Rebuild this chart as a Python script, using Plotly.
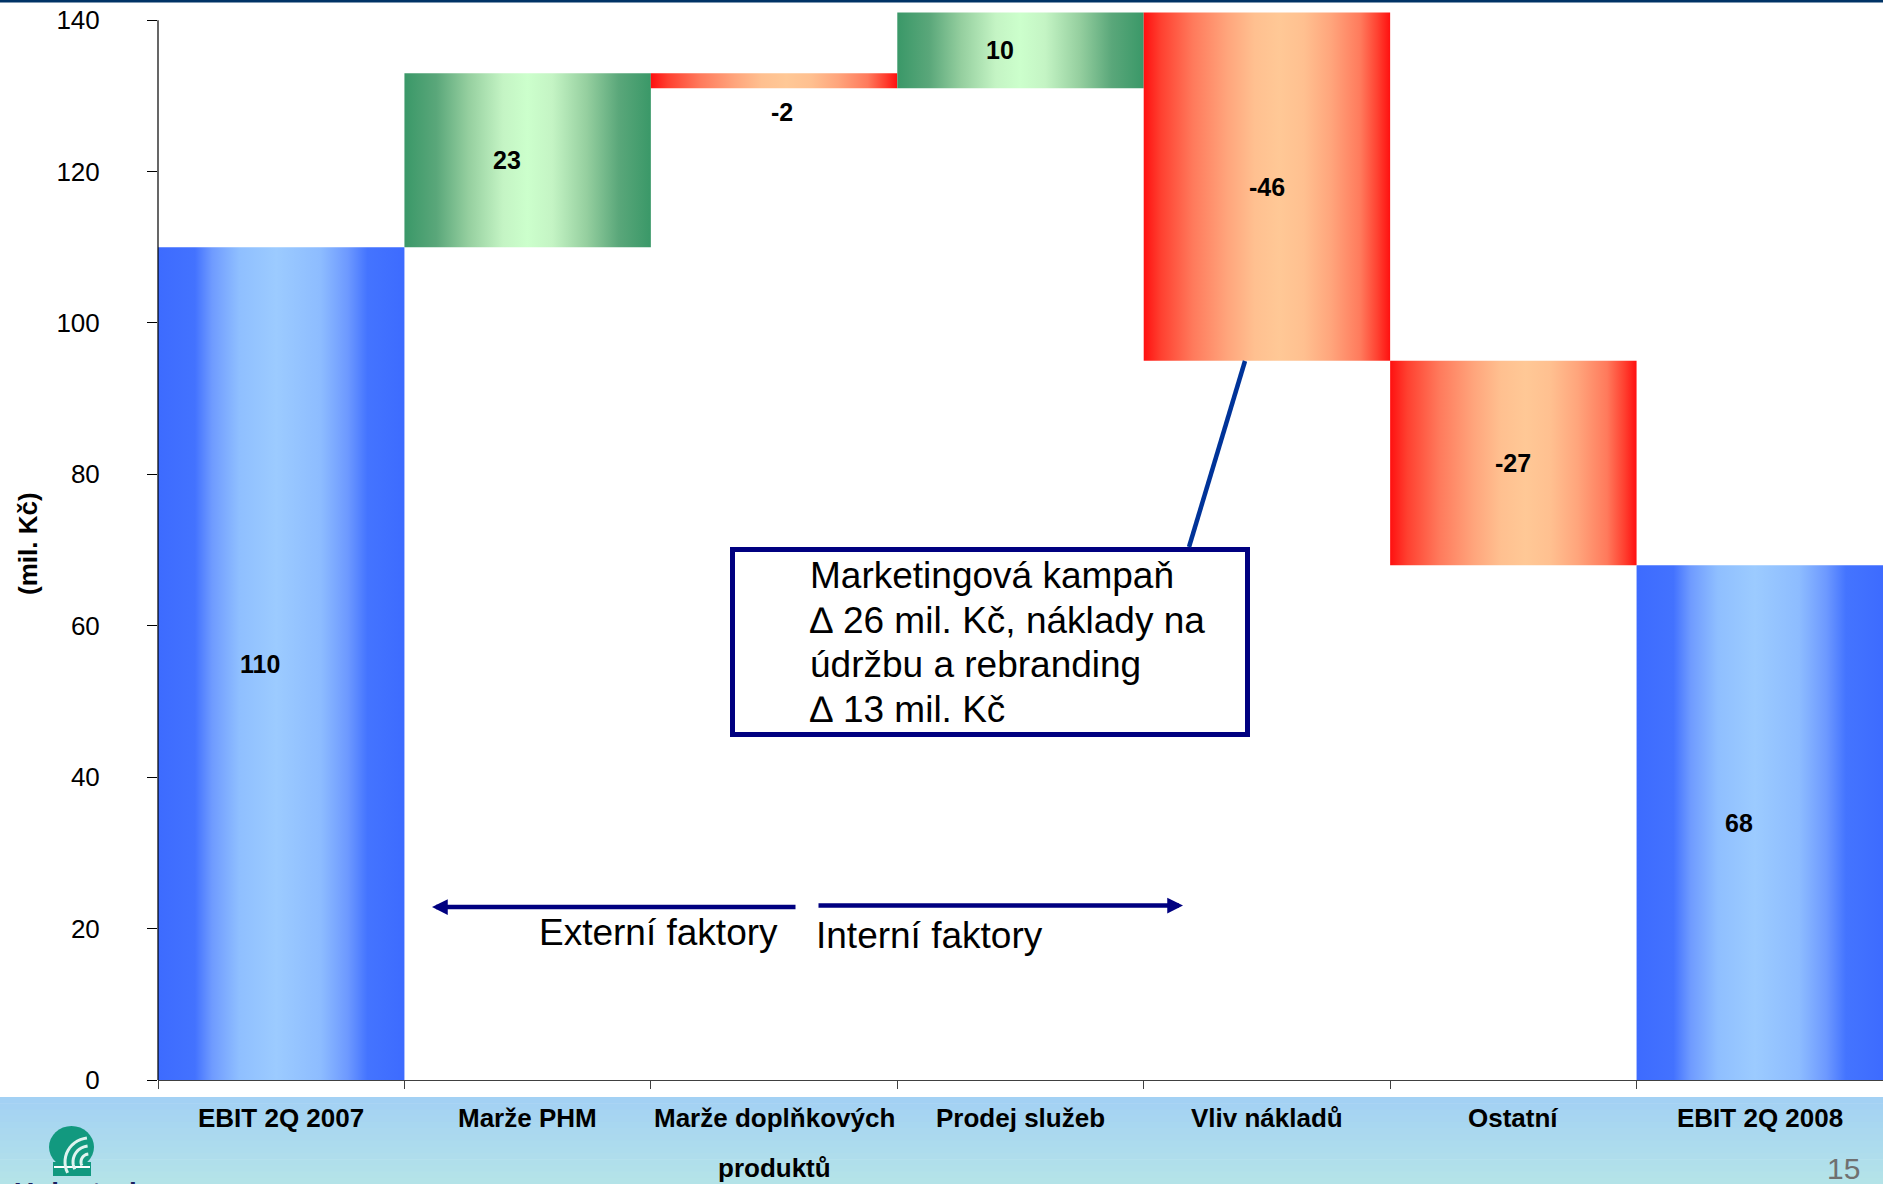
import math
import plotly.graph_objects as go

# ---------------- data ----------------
categories = ["EBIT 2Q 2007", "Marže PHM", "Marže doplňkových<br>produktů",
              "Prodej služeb", "Vliv nákladů", "Ostatní", "EBIT 2Q 2008"]
values = [110, 23, -2, 10, -46, -27, 68]
measures = ["total", "relative", "relative", "relative", "relative", "relative", "total"]
y_ticks = [0, 20, 40, 60, 80, 100, 120, 140]
y_title = "(mil. Kč)"
note_lines = ["Marketingová kampaň", "∆ 26 mil. Kč, náklady na",
              "údržbu a rebranding", "∆ 13 mil. Kč"]
factor_labels = ["Externí faktory", "Interní faktory"]
page_number = "15"
brand = "Unipetrol"

# ---------------- styling ----------------
FONT = "Liberation Sans, Arial, sans-serif"
W, H = 1883, 1184
L, R, T, B = 158, 1883, 5, 1080          # plot area in page pixels
Y_MAX = 142
NCAT = len(values)

BLUE = [[0, '#3d6bff'], [0.15, '#4372ff'], [0.22, '#6f9bff'], [0.33, '#8fbfff'],
        [0.48, '#9ccbff'], [0.66, '#8dbcff'], [0.77, '#6d99ff'], [0.85, '#4474ff'],
        [1, '#3d6bff']]
GREEN = [[0, '#3a9868'], [0.13, '#5aa77a'], [0.26, '#95cf9f'], [0.4, '#c4f4c4'],
         [0.5, '#ccffcc'], [0.6, '#c4f4c4'], [0.74, '#95cf9f'], [0.87, '#5aa77a'],
         [1, '#3a9868']]
RED = [[0, '#ff1010'], [0.07, '#ff4030'], [0.2, '#ff7a5c'], [0.34, '#ffa57c'],
       [0.45, '#ffc090'], [0.55, '#ffc896'], [0.65, '#ffc090'], [0.76, '#ffa57c'],
       [0.88, '#ff7a5c'], [0.95, '#ff4030'], [1, '#ff1010']]


def fx(px):
    return (px - L) / (R - L)


def fy(py):
    return (B - py) / (B - T)


def dx(px):
    return (px - L) / ((R - L) / NCAT) - 0.5


def dy(py):
    return (B - py) / ((B - T) / Y_MAX)


fig = go.Figure()

# ---------------- bars (waterfall) ----------------
running = 0
bars = []
for i, (v, m) in enumerate(zip(values, measures)):
    if m == "total":
        base, top = 0, v
        running = v
    else:
        base, top = running, running + v
        running += v
    bars.append((base, top))
    scale = BLUE if m == "total" else (GREEN if v > 0 else RED)
    fig.add_trace(go.Scatter(
        x=[i - 0.5, i + 0.5, i + 0.5, i - 0.5, i - 0.5],
        y=[base, base, top, top, base],
        mode="lines", fill="toself", line=dict(width=0),
        fillgradient=dict(type="horizontal", colorscale=scale,
                          start=i - 0.5, stop=i + 0.5),
        hoverinfo="skip", showlegend=False))

annotations = []
for i, (v, (base, top)) in enumerate(zip(values, bars)):
    small = abs(v) < 5
    annotations.append(dict(
        x=i, y=min(base, top) if small else (base + top) / 2,
        xref="x", yref="y", text=f"<b>{v}</b>", showarrow=False,
        yanchor="top" if small else "middle",
        yshift=-8 if small else 0,
        xshift=8 if small else (-21 if v > 0 else 0),
        font=dict(family=FONT, size=25, color="black")))

# category labels
for i, c in enumerate(categories):
    for k, part in enumerate(c.split("<br>")):
        annotations.append(dict(
            x=i, y=0, xref="x", yref="paper", yanchor="middle",
            yshift=-38 - 50 * k, text=f"<b>{part}</b>", showarrow=False,
            font=dict(family=FONT, size=26, color="black")))

# y title
annotations.append(dict(
    x=fx(28), y=fy(544), xref="paper", yref="paper", text=f"<b>{y_title}</b>",
    xanchor="center", yanchor="middle",
    textangle=-90, showarrow=False, font=dict(family=FONT, size=26, color="black")))

# note box text
for k, line in enumerate(note_lines):
    annotations.append(dict(
        x=fx(808), y=fy(576 + 44.5 * k), xref="paper", yref="paper",
        xanchor="left", yanchor="middle", text=line, showarrow=False,
        font=dict(family=FONT, size=37, color="black")))

# factor arrows
annotations.append(dict(
    x=dx(432), y=dy(907), ax=dx(797), ay=dy(907), xref="x", yref="y",
    axref="x", ayref="y", text="", showarrow=True, arrowhead=2,
    arrowsize=0.7, arrowwidth=4.5, arrowcolor="#000080"))
annotations.append(dict(
    x=dx(1183), y=dy(905.5), ax=dx(817), ay=dy(905.5), xref="x", yref="y",
    axref="x", ayref="y", text="", showarrow=True, arrowhead=2,
    arrowsize=0.7, arrowwidth=4.5, arrowcolor="#000080"))
annotations.append(dict(
    x=fx(780), y=fy(932), xref="paper", yref="paper", xanchor="right",
    yanchor="middle", text=factor_labels[0], showarrow=False,
    font=dict(family=FONT, size=37, color="black")))
annotations.append(dict(
    x=fx(814), y=fy(935), xref="paper", yref="paper", xanchor="left",
    yanchor="middle", text=factor_labels[1], showarrow=False,
    font=dict(family=FONT, size=37, color="black")))

# page number and brand
annotations.append(dict(
    x=fx(1862), y=fy(1168), xref="paper", yref="paper", xanchor="right",
    yanchor="middle", text=page_number, showarrow=False,
    font=dict(family=FONT, size=30, color="#707070")))
annotations.append(dict(
    x=fx(12), y=fy(1175), xref="paper", yref="paper", xanchor="left",
    yanchor="top", text=f"<b>{brand}</b>", showarrow=False,
    font=dict(family=FONT, size=28, color="#1a2060")))

shapes = []
# bottom band (vertical gradient via strips)
c0 = (0xa3, 0xd1, 0xf4)
c1 = (0xb4, 0xe3, 0xe8)
n = 14
y_top, y_bot = 1097, 1184
for k in range(n):
    t = k / (n - 1)
    col = "rgb(%d,%d,%d)" % tuple(round(a + (b - a) * t) for a, b in zip(c0, c1))
    ya = y_top + (y_bot - y_top) * k / n
    yb = y_top + (y_bot - y_top) * (k + 1) / n + 0.6
    shapes.append(dict(type="rect", xref="paper", yref="paper", x0=fx(0), x1=fx(W),
                       y0=fy(ya), y1=fy(min(yb, y_bot)), fillcolor=col,
                       line=dict(width=0), layer="below"))
# top rule
shapes.append(dict(type="rect", xref="paper", yref="paper", x0=fx(0), x1=fx(W),
                   y0=fy(0), y1=fy(2.5), fillcolor="#003366", line=dict(width=0)))
# y axis line (to 140)
shapes.append(dict(type="line", xref="paper", yref="y", x0=0, x1=0, y0=0, y1=140,
                   line=dict(color="black", width=1.2), layer="above"))
# note box and leader line
shapes.append(dict(type="rect", xref="paper", yref="paper", x0=fx(732.5), x1=fx(1247.5),
                   y0=fy(549.5), y1=fy(734.5), line=dict(color="#000080", width=5),
                   fillcolor="white", layer="above"))
shapes.append(dict(type="line", xref="paper", yref="paper", x0=fx(1245), y0=fy(361),
                   x1=fx(1189), y1=fy(547), line=dict(color="#003399", width=4.5)))

# shell logo: teal body, foot and white ribs
TEAL = "#12997f"
shapes.append(dict(type="circle", xref="paper", yref="paper",
                   x0=fx(49), x1=fx(94), y0=fy(1126), y1=fy(1168),
                   fillcolor=TEAL, line=dict(width=0)))
shapes.append(dict(type="rect", xref="paper", yref="paper",
                   x0=fx(53), x1=fx(91), y0=fy(1162), y1=fy(1176),
                   fillcolor=TEAL, line=dict(width=0)))
shapes.append(dict(type="line", xref="paper", yref="paper",
                   x0=fx(54), x1=fx(90), y0=fy(1167), y1=fy(1167),
                   line=dict(color="white", width=2)))
cx, cy = 89, 1162
for r in (8, 16, 24):
    pts = []
    for a in range(95, 215, 8):
        ang = math.radians(a)
        pts.append((cx + r * math.cos(ang), cy - r * math.sin(ang)))
    path = "M " + " L ".join(f"{fx(px):.5f},{fy(py):.5f}" for px, py in pts)
    shapes.append(dict(type="path", xref="paper", yref="paper", path=path,
                       line=dict(color="#dff3ef", width=3)))

fig.update_layout(
    width=W, height=H,
    margin=dict(l=L, r=W - R, t=T, b=H - B, pad=0),
    paper_bgcolor="white", plot_bgcolor="white",
    showlegend=False, hovermode=False,
    font=dict(family=FONT, color="black"),
    xaxis=dict(range=[-0.5, NCAT - 0.5], showgrid=False, zeroline=False,
               showline=True, linecolor="#404040", linewidth=1.2,
               tickvals=[i - 0.5 for i in range(NCAT + 1)],
               ticktext=[""] * (NCAT + 1), ticks="outside", ticklen=8,
               tickcolor="#404040", showticklabels=False, fixedrange=True),
    yaxis=dict(range=[0, Y_MAX], showgrid=False, zeroline=False, showline=False,
               tickvals=y_ticks, ticks="outside", ticklen=10, tickcolor="black",
               tickfont=dict(family=FONT, size=26, color="black"),
               ticklabelstandoff=42, fixedrange=True),
    annotations=annotations, shapes=shapes,
)

fig.write_html("out.html", config={"displayModeBar": False},
               post_script="document.body.style.margin='0';document.body.style.overflow='hidden';")
